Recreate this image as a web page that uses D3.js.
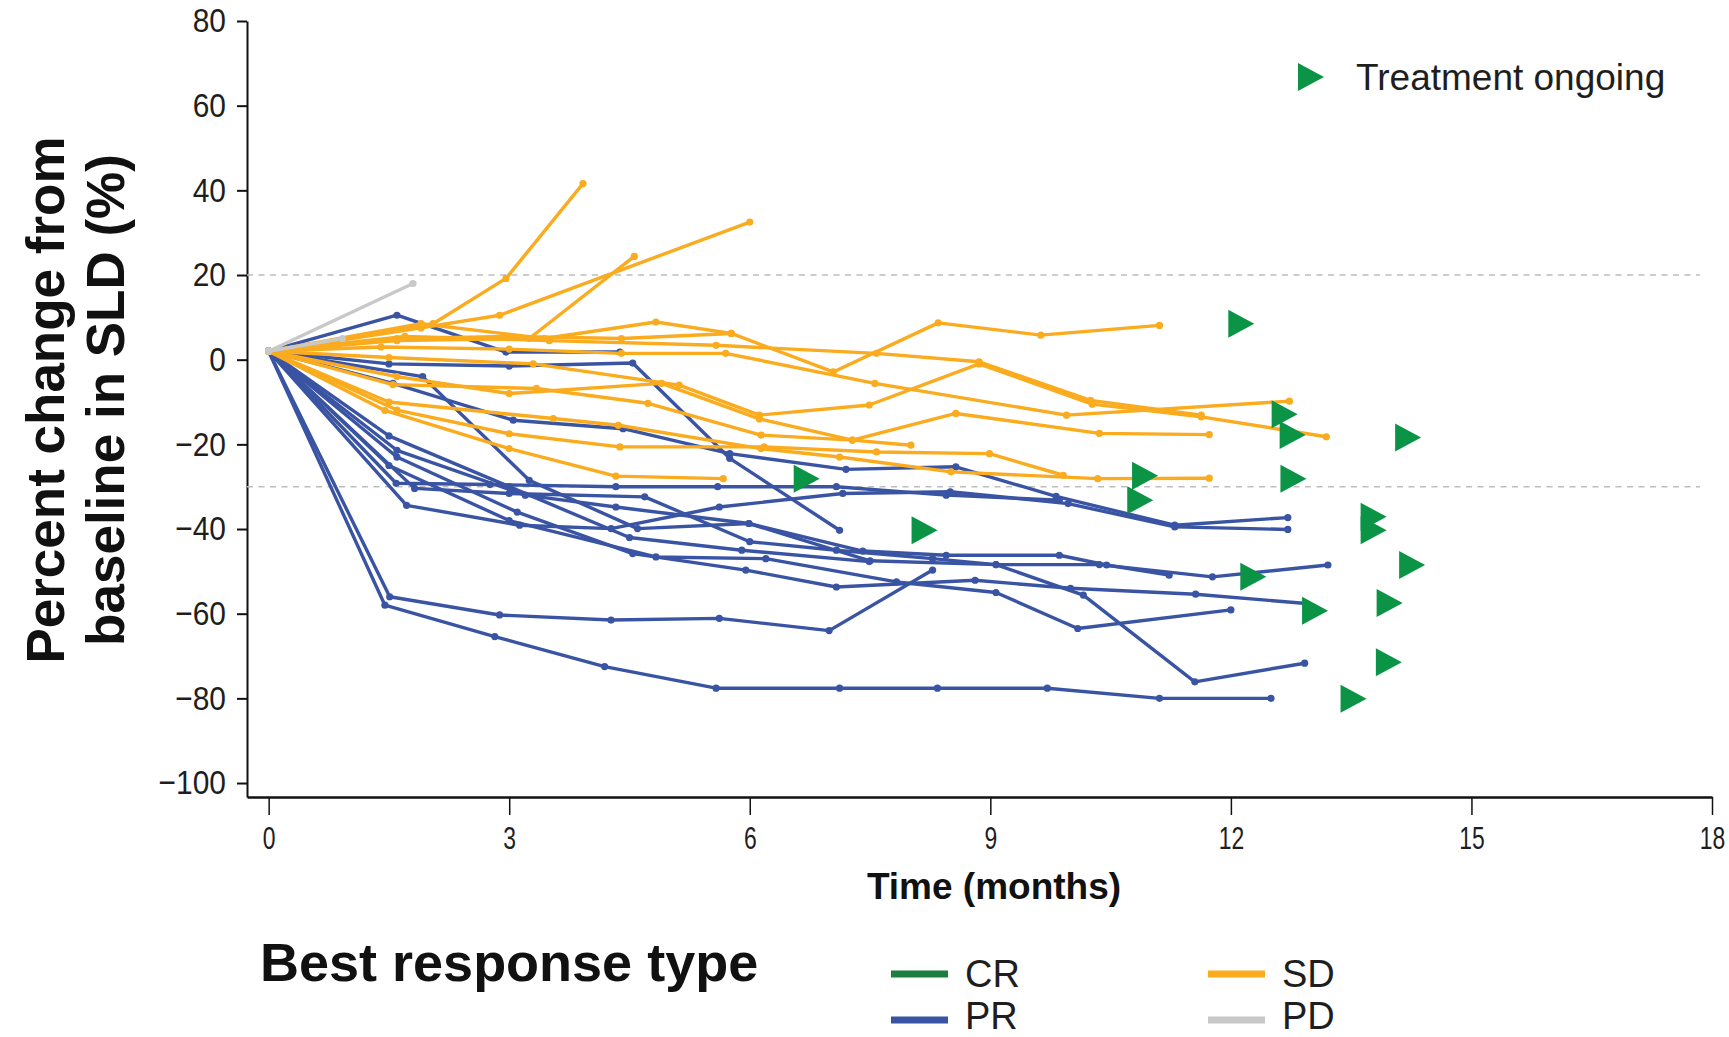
<!DOCTYPE html>
<html>
<head>
<meta charset="utf-8">
<script src="https://cdn.jsdelivr.net/npm/d3@7"></script>
<style>
  body { margin: 0; background: #fff; }
  svg { display: block; font-family: "Liberation Sans", Arial, sans-serif; }
</style>
</head>
<body>
<div id="chart"></div>
<script>
// axis ticks and reference lines
const xTicks = [0, 3, 6, 9, 12, 15, 18];
const yTicks = [80, 60, 40, 20, 0, -20, -40, -60, -80, -100];
const thresholds = [20, -30];

// [months, % change] per patient, partial responders
const prSeries = [
  [[0,2],[1.6,10.5],[2.96,1.8],[4.38,1.8]],
  [[0,2],[1.5,-1],[3.0,-1.5],[4.54,-0.8],[5.75,-23.3],[7.12,-40.3]],
  [[0,2],[1.51,-56],[2.88,-60.3],[4.27,-61.5],[5.62,-61.1],[6.99,-64],[8.28,-49.7]],
  [[0,2],[1.45,-58],[2.82,-65.4],[4.19,-72.5],[5.58,-77.6],[7.12,-77.6],[8.34,-77.6],[9.71,-77.6],[11.11,-80],[12.5,-80]],
  [[0,2],[1.55,-5.6],[3.05,-14.3],[4.42,-16.3],[5.75,-22.2],[7.2,-25.9],[8.57,-25.3],[9.82,-32.3],[11.3,-39.1],[12.71,-37.3]],
  [[0,2],[1.59,-29.2],[2.76,-29.5],[4.33,-30],[5.6,-30],[7.08,-30],[8.45,-32],[9.86,-33.2]],
  [[0,2],[1.72,-34.4],[3.13,-39.1],[4.27,-39.9],[5.62,-34.8],[7.16,-31.6],[8.5,-31.2],[9.97,-34],[11.3,-39.5],[12.71,-40.1]],
  [[0,2],[1.92,-4],[3.25,-28.5],[4.6,-39.9],[5.99,-38.7],[7.41,-45.2],[8.45,-46.2],[9.86,-46.2],[10.45,-48.5],[11.23,-50.9]],
  [[0,2],[1.82,-30.4],[3.0,-31.6],[4.69,-32.4],[6.0,-43],[7.08,-45],[8.28,-47],[9.07,-48.4],[10.36,-48.4],[11.77,-51.3],[13.21,-48.5]],
  [[0,2],[1.6,-23],[3.1,-36],[4.54,-45.8],[5.95,-49.7],[7.08,-53.7],[8.81,-52.1],[10.0,-54],[11.56,-55.4],[12.94,-57.6]],
  [[0,2],[1.5,-25],[3.0,-38],[4.83,-46.6],[6.2,-47],[7.83,-52.5],[9.07,-55],[10.09,-63.5],[12.0,-59.1]],
  [[0,2],[1.6,-21.4],[3.2,-32],[4.33,-34.8],[5.99,-38.7],[7.5,-47.5],[9.07,-48.4],[10.16,-55.6],[11.55,-76.1],[12.92,-71.7]],
  [[0,2],[1.5,-18],[3.0,-30],[4.5,-42],[5.9,-45],[7.49,-47.7]]
];

// stable disease
const sdSeries = [
  [[0,2],[2.05,8.5],[2.96,19.2],[3.92,41.6]],
  [[0,2],[1.6,4.5],[3.25,5.0],[4.56,24.4]],
  [[0,2],[1.9,7.5],[2.88,10.5],[6.0,32.5]],
  [[0,2],[1.9,8.5],[3.44,5.0],[4.83,8.9],[5.77,6.2],[7.04,-2.9],[8.35,8.7],[9.63,5.8],[11.11,8.1]],
  [[0,2],[1.7,5.5],[3.5,4.5],[5.58,3.4],[7.58,1.5],[8.86,-0.5],[10.25,-9.6],[11.63,-13.1]],
  [[0,2],[1.4,3],[3.0,2.5],[4.4,1.5],[5.7,1.5],[7.56,-5.6],[9.95,-13.1],[12.73,-9.8]],
  [[0,2],[1.5,0.5],[3.3,-1],[5.12,-6],[6.12,-13.1],[7.49,-10.7],[8.86,-1],[10.27,-10.5],[11.63,-13.5],[13.19,-18.2]],
  [[0,2],[1.55,-5.9],[3.34,-6.8],[4.73,-10.3],[6.14,-17.8],[7.28,-19],[8.57,-12.7],[10.36,-17.4],[11.73,-17.7]],
  [[0,2],[1.6,-4],[3.0,-8],[4.9,-5.6],[6.12,-14],[7.28,-19],[8.01,-20.2]],
  [[0,2],[1.6,-11.9],[3.0,-17.5],[4.38,-20.6],[6.18,-20.6],[7.58,-21.8],[8.99,-22.2],[9.91,-27.3]],
  [[0,2],[1.5,-10],[3.55,-13.9],[4.36,-15.5],[6.14,-21],[7.12,-23],[8.51,-26.5],[10.34,-28.1],[11.73,-28.0]],
  [[0,2],[1.45,-12],[3.0,-21],[4.33,-27.5],[5.67,-28.1]],
  [[0,2],[1.6,5],[3.0,5.5],[4.4,5.0],[5.77,6.2]]
];

// progressive disease
const pdSeries = [
  [[0,2],[1.8,18]],
  [[0,2],[0.92,5]]
];

// treatment ongoing markers
const ongoing = [
  [12.13,8.5],[12.67,-12.9],[12.77,-17.8],[14.21,-18.4],[6.71,-28.1],[10.93,-27.4],
  [12.78,-28.1],[10.87,-33.2],[13.78,-37.1],[13.78,-40.3],[8.18,-40.3],[14.26,-48.5],
  [12.28,-51.3],[13.05,-59.3],[13.98,-57.5],[13.97,-71.5],[13.53,-80.1]
];

const responseTypes = ["CR", "PR", "SD", "PD"];
const responseColors = ["#1a7f3f", "#3a54a4", "#faab1e", "#c8c8c8"];
const ongoingColor = "#0b9446";

function drawChart() {
  const width = 1729, height = 1037;
  const svg = d3.select("#chart").append("svg")
    .attr("width", width)
    .attr("height", height);

  const x = d3.scaleLinear().domain([-0.27, 18]).range([247, 1712]);
  const y = d3.scaleLinear().domain([80, -103.3]).range([21, 797]);
  const color = d3.scaleOrdinal().domain(responseTypes).range(responseColors);

  // y axis
  const yAxis = svg.append("g")
    .attr("transform", `translate(${x.range()[0]},0)`)
    .call(d3.axisLeft(y).tickValues(yTicks).tickSize(10).tickSizeOuter(0));
  yAxis.select(".domain").attr("stroke", "#111").attr("stroke-width", 2);
  yAxis.selectAll(".tick line").attr("stroke", "#111").attr("stroke-width", 2);
  yAxis.selectAll(".tick text")
    .attr("font-size", 34)
    .attr("font-family", "'Liberation Sans', Arial, sans-serif")
    .attr("fill", "#1e1e1e")
    .attr("x", -21 / 0.88)
    .attr("transform", "scale(0.88,1)");

  // x axis
  const xAxis = svg.append("g")
    .attr("transform", `translate(0,${y.range()[1]})`)
    .call(d3.axisBottom(x).tickValues(xTicks).tickSize(18).tickSizeOuter(0).tickPadding(12));
  xAxis.select(".domain").attr("stroke", "#111").attr("stroke-width", 2.5);
  xAxis.selectAll(".tick line").attr("stroke", "#111").attr("stroke-width", 1.5);
  xAxis.selectAll(".tick text")
    .attr("font-size", 31)
    .attr("font-family", "'Liberation Sans', Arial, sans-serif")
    .attr("fill", "#1e1e1e")
    .attr("transform", "scale(0.74,1)");

  // threshold lines
  svg.append("g").selectAll("line")
    .data(thresholds)
    .join("line")
    .attr("x1", x.range()[0])
    .attr("x2", x(17.85))
    .attr("y1", d => y(d))
    .attr("y2", d => y(d))
    .attr("stroke", "#bdbdbd")
    .attr("stroke-width", 1.6)
    .attr("stroke-dasharray", "6,5.5");

  const line = d3.line().x(d => x(d[0])).y(d => y(d[1]));

  const groups = [
    { type: "PR", series: prSeries },
    { type: "SD", series: sdSeries },
    { type: "PD", series: pdSeries }
  ];

  groups.forEach(grp => {
    const g = svg.append("g");
    g.selectAll("path")
      .data(grp.series)
      .join("path")
      .attr("d", line)
      .attr("fill", "none")
      .attr("stroke", color(grp.type))
      .attr("stroke-width", 3.4)
      .attr("stroke-linejoin", "round");
    g.selectAll("circle")
      .data(grp.series.flat())
      .join("circle")
      .attr("cx", d => x(d[0]))
      .attr("cy", d => y(d[1]))
      .attr("r", 3.6)
      .attr("fill", color(grp.type));
  });

  // ongoing triangles (pointing right)
  const tri = (cx, cy) => {
    const p = d3.path();
    p.moveTo(cx - 13, cy - 14);
    p.lineTo(cx + 13, cy);
    p.lineTo(cx - 13, cy + 14);
    p.closePath();
    return p.toString();
  };

  svg.append("g").selectAll("path")
    .data(ongoing)
    .join("path")
    .attr("d", d => tri(x(d[0]), y(d[1])))
    .attr("fill", ongoingColor);

  // axis titles
  svg.append("text")
    .attr("x", 994)
    .attr("y", 899)
    .attr("text-anchor", "middle")
    .attr("font-size", 37)
    .attr("font-weight", "bold")
    .attr("fill", "#111")
    .text("Time (months)");

  const yTitle = svg.append("text")
    .attr("transform", "translate(0,400) rotate(-90)")
    .attr("text-anchor", "middle")
    .attr("font-size", 53)
    .attr("font-weight", "bold")
    .attr("fill", "#111");
  yTitle.append("tspan").attr("x", 0).attr("y", 64).text("Percent change from");
  yTitle.append("tspan").attr("x", 0).attr("y", 124).text("baseline in SLD (%)");

  // treatment ongoing legend
  svg.append("path")
    .attr("d", tri(1311, 77))
    .attr("fill", ongoingColor);
  svg.append("text")
    .attr("x", 1356)
    .attr("y", 77)
    .attr("dy", "0.35em")
    .attr("font-size", 37)
    .attr("fill", "#1e1e1e")
    .text("Treatment ongoing");

  // best response legend
  svg.append("text")
    .attr("x", 260)
    .attr("y", 981)
    .attr("font-size", 54)
    .attr("font-weight", "bold")
    .attr("fill", "#111")
    .text("Best response type");

  const legendPos = [[891, 974], [891, 1020], [1208, 974], [1208, 1020]];
  const legend = svg.append("g").selectAll("g")
    .data(responseTypes)
    .join("g")
    .attr("transform", (d, i) => `translate(${legendPos[i][0]},${legendPos[i][1]})`);
  legend.append("line")
    .attr("x1", 0).attr("x2", 57)
    .attr("stroke", d => color(d))
    .attr("stroke-width", 7);
  legend.append("text")
    .attr("x", 74)
    .attr("y", (d, i) => i % 2 ? -4 : 0)
    .attr("dy", "0.35em")
    .attr("font-size", 38)
    .attr("fill", "#1e1e1e")
    .text(d => d);
}

drawChart();
</script>
</body>
</html>
